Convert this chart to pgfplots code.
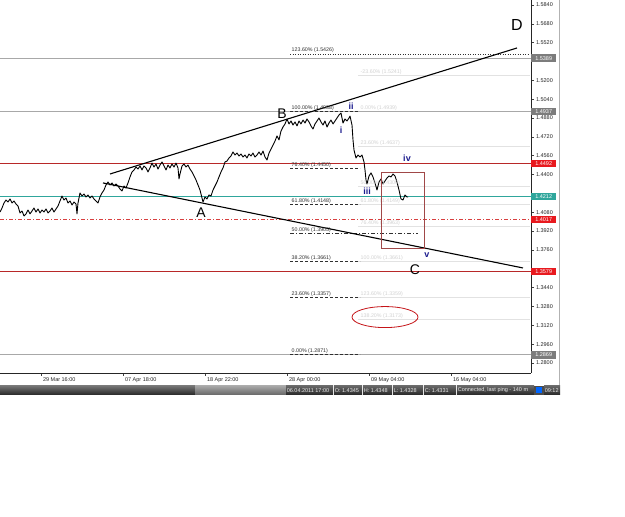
\documentclass[border=0pt]{standalone}
\usepackage{pgfplots}
\pgfplotsset{compat=1.18}
\usepackage{fontspec}
\setmainfont{Liberation Sans}
\definecolor{lvlred}{HTML}{B82828}
\definecolor{ddred}{HTML}{D84040}
\definecolor{boxred}{HTML}{E8191E}
\definecolor{teal2}{HTML}{2FA69C}
\definecolor{gline}{HTML}{A8A8A8}
\definecolor{gbox}{HTML}{7C7C7C}
\definecolor{wavebl}{HTML}{1C1C8E}
\definecolor{faint}{HTML}{E2E2E2}
\definecolor{faintt}{HTML}{D2D2D2}
\definecolor{fibc}{HTML}{303030}
\definecolor{rect}{HTML}{A04848}
\pgfplotstableread{
x y
0 1.4082
2 1.4116
4 1.4159
6 1.4184
8 1.4167
10 1.4193
12 1.4159
14 1.4176
16 1.4150
18 1.4133
20 1.4074
22 1.4091
24 1.4049
26 1.4066
28 1.4099
30 1.4066
32 1.4091
34 1.4116
36 1.4082
38 1.4108
40 1.4074
42 1.4099
44 1.4082
46 1.4108
48 1.4074
50 1.4091
52 1.4116
54 1.4082
56 1.4108
58 1.4133
60 1.4176
62 1.4218
64 1.4184
66 1.4201
68 1.4159
70 1.4176
72 1.4142
74 1.4167
76 1.4150
77 1.4066
78 1.4159
80 1.4244
82 1.4218
84 1.4235
86 1.4210
88 1.4227
90 1.4201
92 1.4218
94 1.4193
96 1.4176
98 1.4159
100 1.4210
102 1.4244
104 1.4269
106 1.4312
108 1.4337
110 1.4312
112 1.4329
114 1.4303
116 1.4320
118 1.4303
120 1.4278
122 1.4261
124 1.4303
126 1.4286
128 1.4329
130 1.4380
132 1.4422
134 1.4439
136 1.4464
138 1.4447
140 1.4473
142 1.4439
144 1.4473
146 1.4456
148 1.4422
150 1.4456
152 1.4498
154 1.4464
156 1.4490
158 1.4447
160 1.4481
162 1.4507
164 1.4473
166 1.4439
168 1.4481
170 1.4456
172 1.4490
174 1.4464
176 1.4498
178 1.4456
179 1.4363
180 1.4405
182 1.4473
184 1.4490
186 1.4464
188 1.4481
190 1.4447
192 1.4422
194 1.4388
196 1.4354
198 1.4312
200 1.4269
202 1.4201
203 1.4167
205 1.4210
207 1.4193
209 1.4227
211 1.4218
213 1.4269
215 1.4303
217 1.4337
219 1.4380
221 1.4422
223 1.4456
225 1.4507
227 1.4515
229 1.4541
231 1.4558
233 1.4592
235 1.4566
237 1.4583
239 1.4558
241 1.4575
243 1.4549
245 1.4566
247 1.4541
249 1.4575
251 1.4558
253 1.4583
255 1.4549
257 1.4566
259 1.4592
261 1.4566
263 1.4600
265 1.4549
267 1.4524
269 1.4583
271 1.4617
273 1.4651
275 1.4685
277 1.4728
279 1.4694
281 1.4770
283 1.4804
285 1.4830
287 1.4872
289 1.4830
291 1.4855
293 1.4821
295 1.4847
297 1.4813
299 1.4855
301 1.4830
303 1.4863
305 1.4838
307 1.4872
309 1.4847
311 1.4813
313 1.4787
315 1.4830
317 1.4855
319 1.4880
321 1.4847
323 1.4821
325 1.4855
327 1.4804
329 1.4838
331 1.4863
333 1.4830
335 1.4855
337 1.4880
339 1.4906
341 1.4923
343 1.4838
345 1.4872
347 1.4855
349 1.4880
350 1.4897
352 1.4821
353 1.4694
354 1.4609
356 1.4541
358 1.4566
360 1.4549
362 1.4566
364 1.4507
365 1.4439
366 1.4354
367 1.4320
369 1.4388
371 1.4414
373 1.4380
375 1.4329
377 1.4269
379 1.4337
381 1.4363
383 1.4320
385 1.4346
387 1.4371
389 1.4388
391 1.4380
393 1.4405
395 1.4388
397 1.4337
399 1.4269
401 1.4193
403 1.4184
405 1.4227
407 1.4210
408 1.4210
}\price
\begin{document}
\begin{tikzpicture}[x=1pt,y=1pt]
\path[use as bounding box] (0pt,0pt) rectangle (625pt,517pt);
\fill[white] (0pt,0pt) rectangle (625pt,517pt);
\begin{axis}[at={(0pt,144pt)}, anchor=south west, width=531pt, height=373pt, scale only axis,
 clip=false,
 xmin=0, xmax=531, ymin=1.27151, ymax=1.58825,
 axis x line*=bottom, axis y line*=right,
 axis line style={draw=black!85, line width=0.8pt, -},
 xtick={41,123,205,287,369,451},
 xticklabels={29 Mar 16:00, 07 Apr 18:00, 18 Apr 22:00, 28 Apr 00:00, 09 May 04:00, 16 May 04:00},
 xticklabel style={anchor=north west, xshift=-1.5pt, yshift=1.5pt, font=\fontsize{5.5}{6}\selectfont, text=black!85},
 ytick={1.2800,1.2960,1.3120,1.3280,1.3440,1.3760,1.3920,1.4080,1.4400,1.4560,1.4720,1.4880,1.5040,1.5200,1.5520,1.5680,1.5840},
 yticklabel style={font=\fontsize{5.5}{6}\selectfont, text=black!85, xshift=-1.5pt,
   /pgf/number format/.cd, fixed, fixed zerofill, precision=4, 1000 sep={}},
 /pgf/number format/assume math mode=true,
 tick align=outside, major tick length=3pt, tick style={black!75, line width=0.5pt},
]
% faint second fibonacci set
\foreach \v in {1.5241,1.4939,1.4637,1.4300,1.4149,1.3963,1.3661,1.3359,1.3173}{
  \edef\tmp{\noexpand\addplot[faint, line width=0.6pt, forget plot] coordinates {(358,\v) (530,\v)};}\tmp}
% full-width level lines
\addplot[draw=gline, line width=1.2pt] coordinates {(0,1.5389) (531,1.5389)};
\addplot[draw=gline, line width=1.2pt] coordinates {(0,1.4937) (531,1.4937)};
\addplot[draw=lvlred, line width=1pt] coordinates {(0,1.4492) (531,1.4492)};
\addplot[draw=teal2, line width=0.8pt] coordinates {(0,1.4212) (531,1.4212)};
\addplot[draw=ddred, line width=0.9pt, dash pattern=on 4pt off 2pt on 1pt off 2pt] coordinates {(0,1.4017) (531,1.4017)};
\addplot[draw=lvlred, line width=1pt] coordinates {(0,1.3579) (531,1.3579)};
\addplot[draw=gline, line width=1.2pt] coordinates {(0,1.2869) (531,1.2869)};
% fib set 1
\addplot[fibc, line width=0.5pt, dash pattern=on 1pt off 1.5pt] coordinates {(290,1.5426) (530,1.5426)};
\addplot[fibc, line width=0.5pt, dash pattern=on 3pt off 2pt] coordinates {(290,1.4938) (358,1.4938)};
\addplot[fibc, line width=0.5pt, dash pattern=on 3pt off 2pt] coordinates {(290,1.4450) (360,1.4450)};
\addplot[fibc, line width=0.5pt, dash pattern=on 3pt off 2pt] coordinates {(290,1.4148) (360,1.4148)};
\addplot[fibc, line width=0.5pt, dash pattern=on 4pt off 2pt on 1pt off 2pt] coordinates {(290,1.3905) (418,1.3905)};
\addplot[fibc, line width=0.5pt, dash pattern=on 3pt off 2pt] coordinates {(290,1.3661) (360,1.3661)};
\addplot[fibc, line width=0.5pt, dash pattern=on 3pt off 2pt] coordinates {(290,1.3357) (360,1.3357)};
\addplot[fibc, line width=0.5pt, dash pattern=on 3pt off 2pt] coordinates {(290,1.2871) (360,1.2871)};
% price
\addplot[black, line width=0.9pt, line join=round] table[x=x,y=y] {\price};
% trend lines
\addplot[black, line width=1.1pt] coordinates {(110,1.4405) (517,1.5475)};
\addplot[black, line width=1.1pt] coordinates {(103,1.4329) (523,1.3607)};
% annotations
\begin{scope}[font=\fontsize{5.3}{6}\selectfont]
\node[anchor=south west, inner sep=0.5pt, text=fibc] at (axis cs:291,1.5426) {123.60\% (1.5426)};
\node[anchor=south west, inner sep=0.5pt, text=fibc] at (axis cs:291,1.4938) {100.00\% (1.4938)};
\node[anchor=south west, inner sep=0.5pt, text=fibc] at (axis cs:291,1.4450) {76.40\% (1.4450)};
\node[anchor=south west, inner sep=0.5pt, text=fibc] at (axis cs:291,1.4148) {61.80\% (1.4148)};
\node[anchor=south west, inner sep=0.5pt, text=fibc] at (axis cs:291,1.3905) {50.00\% (1.3905)};
\node[anchor=south west, inner sep=0.5pt, text=fibc] at (axis cs:291,1.3661) {38.20\% (1.3661)};
\node[anchor=south west, inner sep=0.5pt, text=fibc] at (axis cs:291,1.3357) {23.60\% (1.3357)};
\node[anchor=south west, inner sep=0.5pt, text=fibc] at (axis cs:291,1.2871) {0.00\% (1.2871)};
\node[anchor=south west, inner sep=0.5pt, text=faintt] at (axis cs:360,1.5241) {-23.60\% (1.5241)};
\node[anchor=south west, inner sep=0.5pt, text=faintt] at (axis cs:360,1.4939) {0.00\% (1.4939)};
\node[anchor=south west, inner sep=0.5pt, text=faintt] at (axis cs:360,1.4637) {23.60\% (1.4637)};
\node[anchor=south west, inner sep=0.5pt, text=faintt] at (axis cs:360,1.4300) {50.00\% (1.4300)};
\node[anchor=south west, inner sep=0.5pt, text=faintt] at (axis cs:360,1.4149) {61.80\% (1.4149)};
\node[anchor=south west, inner sep=0.5pt, text=faintt] at (axis cs:360,1.3963) {76.40\% (1.3963)};
\node[anchor=south west, inner sep=0.5pt, text=faintt] at (axis cs:360,1.3661) {100.00\% (1.3661)};
\node[anchor=south west, inner sep=0.5pt, text=faintt] at (axis cs:360,1.3359) {123.60\% (1.3359)};
\node[anchor=south west, inner sep=0.5pt, text=faintt] at (axis cs:360,1.3173) {138.20\% (1.3173)};
\end{scope}
% rectangle and ellipse
\draw[rect, line width=0.6pt] (axis cs:381,1.4422) rectangle (axis cs:424,1.3777);
\draw[boxred!85!black, line width=0.8pt] (axis cs:385,1.3190) ellipse [x radius=33pt, y radius=10.5pt];
% wave letters
\node[font=\fontsize{16}{16}\selectfont] at (axis cs:517,1.5670) {D};
\node[font=\fontsize{14}{14}\selectfont] at (axis cs:282,1.4914) {B};
\node[font=\fontsize{14}{14}\selectfont] at (axis cs:201,1.4074) {A};
\node[font=\fontsize{14}{14}\selectfont] at (axis cs:415,1.3592) {C};
\begin{scope}[text=wavebl, font=\fontsize{9}{9}\selectfont\bfseries]
\node at (axis cs:351,1.4982) {ii};
\node at (axis cs:341,1.4780) {i};
\node at (axis cs:367,1.4261) {iii};
\node at (axis cs:407,1.4541) {iv};
\node at (axis cs:427,1.3720) {v};
\end{scope}
% price label boxes on the right scale
\begin{scope}[font=\fontsize{5.5}{6}\selectfont, inner sep=0pt, minimum width=25pt, minimum height=7.5pt, text=white]
\node[anchor=west, fill=gbox] at (axis cs:531,1.5389) {1.5389};
\node[anchor=west, fill=gbox] at (axis cs:531,1.4937) {1.4937};
\node[anchor=west, fill=boxred] at (axis cs:531,1.4492) {1.4492};
\node[anchor=west, fill=teal2] at (axis cs:531,1.4212) {1.4212};
\node[anchor=west, fill=boxred] at (axis cs:531,1.4017) {1.4017};
\node[anchor=west, fill=boxred] at (axis cs:531,1.3579) {1.3579};
\node[anchor=west, fill=gbox] at (axis cs:531,1.2869) {1.2869};
\end{scope}
\end{axis}
% window edge
\draw[black!30, line width=0.6pt] (559.5pt,132pt) -- (559.5pt,517pt);
% status bar
\shade[top color=black!55, bottom color=black!85] (0pt,122pt) rectangle (195pt,131pt);
\shade[top color=black!35, bottom color=black!60] (195pt,122pt) rectangle (286pt,131pt);
\begin{scope}[font=\fontsize{5.5}{6}\selectfont, text=white!92!black]
\foreach \a/\b/\t in {286/333/{06.04.2011 17:00}, 334/362/{O: 1.4345}, 363/392/{H: 1.4348}, 393/423/{L: 1.4328}, 424/456/{C: 1.4331}, 457/534/{Connected, last ping - 140 m}, 544/560/{09:12}}{
  \shade[top color=black!60, bottom color=black!85] (\a pt,122pt) rectangle (\b pt,131pt);
  \node[anchor=west, inner sep=0.6pt] at (\a pt,126.5pt) {\t};
}
\end{scope}
\fill[black!70] (534pt,122pt) rectangle (544pt,131pt);
\fill[blue!60!cyan] (536pt,123.5pt) rectangle (542pt,129.5pt);
\end{tikzpicture}
\end{document}
